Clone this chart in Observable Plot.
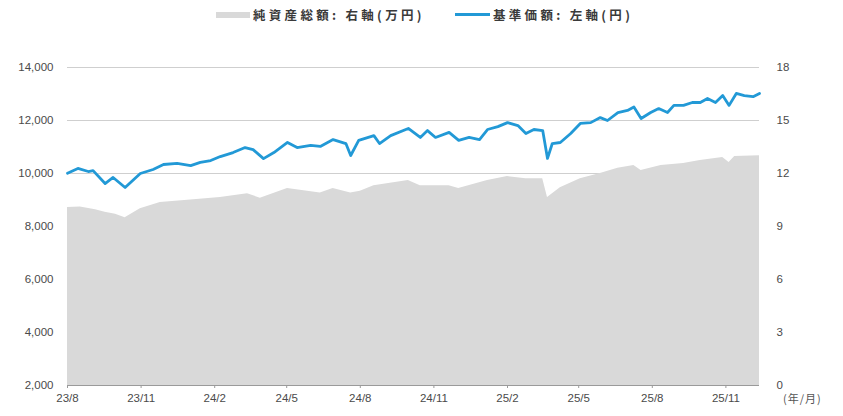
<!DOCTYPE html>
<html><head><meta charset="utf-8">
<script src="https://cdn.jsdelivr.net/npm/d3@7"></script>
<script src="https://cdn.jsdelivr.net/npm/@observablehq/plot@0.6"></script>
<style>
body{margin:0;background:#fff;font-family:"Noto Sans CJK JP","Noto Sans",sans-serif;}
#wrap{position:relative;width:843px;height:416px;overflow:hidden;}
#legend{position:relative;height:30px;width:843px;}
.sw{position:absolute;}
.lt{position:absolute;top:6px;font-size:12.5px;font-weight:700;color:#3a3a3a;letter-spacing:3.3px;white-space:nowrap;line-height:18px;}
#unit{position:absolute;left:783px;top:390px;font-size:11px;color:#555;letter-spacing:1px;}
</style></head><body>
<div id="wrap">
<div id="legend">
  <div class="sw" style="left:216px;top:12px;width:34px;height:6px;background:#d9d9d9"></div>
  <div class="lt" style="left:253px">純資産総額: 右軸(万円)</div>
  <div class="sw" style="left:455px;top:13px;width:35px;height:3px;background:#2299d6"></div>
  <div class="lt" style="left:493px">基準価額: 左軸(円)</div>
</div>
<div id="chart"></div>
<div id="unit">(年/月)</div>
</div>
<script>
// 基準価額 (left axis, 円)
const navDates = ["2023-08-01","2023-08-14","2023-08-27","2023-09-02","2023-09-17","2023-09-27","2023-10-12","2023-10-31","2023-11-16","2023-11-29","2023-12-16","2024-01-02","2024-01-14","2024-01-27","2024-02-08","2024-02-24","2024-03-10","2024-03-20","2024-04-02","2024-04-15","2024-05-02","2024-05-14","2024-05-31","2024-06-12","2024-06-28","2024-07-14","2024-07-20","2024-07-30","2024-08-18","2024-08-25","2024-09-08","2024-09-30","2024-10-15","2024-10-24","2024-11-03","2024-11-20","2024-12-02","2024-12-15","2024-12-28","2025-01-07","2025-01-20","2025-02-01","2025-02-14","2025-02-24","2025-03-06","2025-03-17","2025-03-23","2025-03-29","2025-04-08","2025-04-21","2025-05-03","2025-05-16","2025-05-28","2025-06-06","2025-06-19","2025-07-01","2025-07-09","2025-07-18","2025-07-30","2025-08-09","2025-08-20","2025-08-28","2025-09-09","2025-09-20","2025-09-30","2025-10-09","2025-10-19","2025-10-28","2025-11-05","2025-11-14","2025-11-24","2025-12-05","2025-12-13"];
const navValues = [10010,10190,10075,10110,9620,9850,9470,10000,10150,10340,10380,10300,10420,10490,10640,10790,10980,10900,10560,10790,11170,10980,11060,11020,11280,11130,10680,11250,11430,11130,11430,11700,11360,11620,11360,11550,11250,11360,11280,11660,11770,11920,11810,11510,11660,11620,10570,11130,11170,11510,11890,11920,12110,12000,12300,12380,12510,12075,12300,12450,12300,12570,12570,12680,12680,12830,12680,12940,12570,13020,12940,12900,13020];
// 純資産総額 (right axis)
const aumDates = ["2023-08-01","2023-08-17","2023-09-05","2023-09-17","2023-09-30","2023-10-12","2023-10-31","2023-11-25","2024-01-02","2024-02-08","2024-03-13","2024-03-29","2024-05-02","2024-06-12","2024-06-28","2024-07-20","2024-08-01","2024-08-18","2024-09-30","2024-10-15","2024-11-20","2024-12-02","2025-01-07","2025-02-01","2025-02-24","2025-03-17","2025-03-23","2025-04-08","2025-05-03","2025-05-28","2025-06-19","2025-07-09","2025-07-18","2025-08-12","2025-09-09","2025-09-30","2025-10-28","2025-11-05","2025-11-12","2025-12-13"];
const aumValues = [10.07,10.1,9.95,9.8,9.7,9.5,10.0,10.36,10.5,10.64,10.86,10.6,11.15,10.9,11.15,10.9,11.0,11.3,11.6,11.3,11.3,11.15,11.6,11.83,11.7,11.7,10.64,11.2,11.7,12.0,12.3,12.45,12.17,12.45,12.56,12.73,12.9,12.62,12.96,13.0];
// ticks
const leftTicks = [2000,4000,6000,8000,10000,12000,14000];
const rightTicks = [0,3,6,9,12,15,18];
const xTickDates = ["2023-08-01","2023-11-01","2024-02-01","2024-05-01","2024-08-01","2024-11-01","2025-02-01","2025-05-01","2025-08-01","2025-11-01"];
const xTickLabels = ["23/8","23/11","24/2","24/5","24/8","24/11","25/2","25/5","25/8","25/11"];
const xDomain = ["2023-08-01","2025-12-13"];

const yMin = 2000, yMax = 14000, rMax = 18;
const toLeft = r => yMin + r * (yMax - yMin) / rMax;
const fromLeft = v => Math.round((v - yMin) * rMax / (yMax - yMin));

const nav = navDates.map((d,i)=>({date:new Date(d), v:navValues[i]}));
const aum = aumDates.map((d,i)=>({date:new Date(d), v:toLeft(aumValues[i])}));
const tickMap = new Map(xTickDates.map((d,i)=>[+new Date(d), xTickLabels[i]]));

const chart = Plot.plot({
  width: 843, height: 386,
  marginTop: 37, marginBottom: 31, marginLeft: 67, marginRight: 84,
  style: {fontFamily: "'Liberation Sans', Arial, sans-serif", fontSize: "11.5px", color: "#4a4a4a", background: "#fff"},
  x: {type: "utc", domain: xDomain.map(d=>new Date(d))},
  y: {domain: [yMin, yMax]},
  marks: [
    Plot.gridY(leftTicks, {stroke: "#cfcfcf", strokeOpacity: 1, strokeWidth: 1}),
    Plot.areaY(aum, {x: "date", y1: yMin, y2: "v", fill: "#d9d9d9", curve: "linear"}),
    Plot.ruleY([yMin], {stroke: "#9a9a9a", strokeWidth: 1.2}),
    Plot.lineY(nav, {x: "date", y: "v", stroke: "#2299d6", strokeWidth: 2.8, strokeLinejoin: "round"}),
    Plot.axisY({anchor: "left", ticks: leftTicks, tickSize: 0, tickPadding: 14, tickFormat: d => d3.format(",")(d), label: null}),
    Plot.axisY({anchor: "right", ticks: rightTicks.map(toLeft), tickSize: 0, tickPadding: 17, tickFormat: fromLeft, label: null}),
    Plot.axisX({ticks: xTickDates.map(d=>new Date(d)), tickSize: 3, tickPadding: 5, stroke: "#9a9a9a", tickFormat: d => tickMap.get(+d), label: null})
  ]
});
document.getElementById("chart").appendChild(chart);
</script>
</body></html>
